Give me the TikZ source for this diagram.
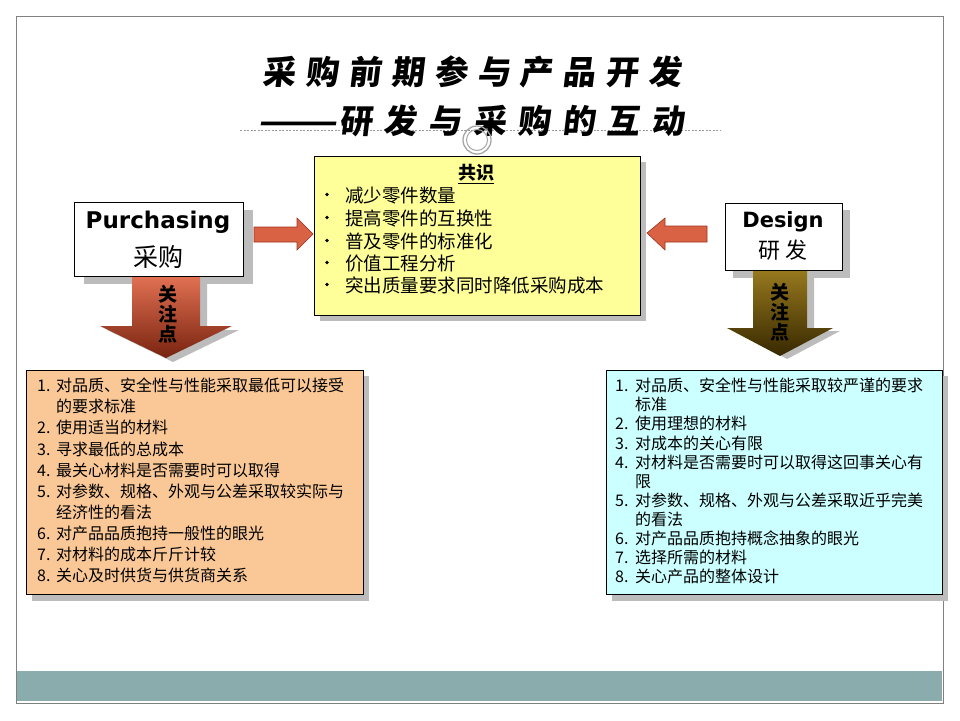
\documentclass[tikz,border=0pt]{standalone}
\usepackage{fontspec}
\setmainfont{Noto Sans CJK SC}
\newfontfamily\titlefont[FakeSlant=0.12]{Noto Sans CJK SC}
\newfontfamily\latfont{DejaVu Sans}
\definecolor{yelfill}{RGB}{255,255,153}
\definecolor{peach}{RGB}{250,200,150}
\definecolor{cyanfill}{RGB}{204,255,255}
\definecolor{bandc}{RGB}{138,172,172}
\definecolor{framec}{RGB}{128,128,128}
\definecolor{arrowred}{RGB}{218,98,68}
\definecolor{arrowedge}{RGB}{160,50,30}
\definecolor{dntop}{RGB}{225,112,82}
\definecolor{dnbot}{RGB}{120,35,15}
\definecolor{oltop}{RGB}{150,120,30}
\definecolor{olbot}{RGB}{55,40,0}
\definecolor{shadowc}{RGB}{188,188,188}
\newcommand\tk{\kern10pt}
\newcommand\tkb{\kern11.6pt}
\tikzset{
  shadowfill/.style={fill=shadowc, draw=none},
  boxline/.style={draw=black, line width=0.8pt, inner sep=0pt, anchor=north west},
  redarrow/.style={fill=arrowred, draw=arrowedge, line width=0.6pt},
  listline/.style={anchor=base west, inner sep=0pt, font=\fontsize{16}{19}\selectfont},
  yline/.style={anchor=base west, inner sep=0pt, font=\fontsize{18.5}{20}\selectfont},
  focus/.style={align=center, inner sep=0pt, font=\bfseries\fontsize{19}{20}\selectfont},
  titletext/.style={inner sep=0pt, font=\titlefont\bfseries\fontsize{33}{33}\selectfont},
}
\begin{document}
\begin{tikzpicture}[x=1pt,y=-1pt]
\useasboundingbox (0,0) rectangle (960,720);
\fill[white] (0,0) rectangle (960,720);
% frame and band
\fill[bandc] (17,671) rectangle (942,701);
\draw[framec, line width=1pt] (16,16) rectangle (943,703);
% title
\draw[framec!80, dash pattern=on 2pt off 1.5pt, line width=0.6pt] (240,130) -- (720,130);
\node[titletext] (t1) at (472,72)
  {采\tk 购\tk 前\tk 期\tk 参\tk 与\tk 产\tk 品\tk 开\tk 发};
\node[titletext] (t2) at (471,121)
  {\scalebox{1.41}[1]{——}\kern2pt 研\tkb 发\tkb 与\tkb 采\tkb 购\tkb 的\tkb 互\tkb 动};
\draw[gray!70, line width=1.3pt] (477,140) circle (14);
\draw[gray!70, line width=1pt] (477,140) circle (10.5);
% yellow box
\fill[shadowfill] (320,162) rectangle (646,321);
\node[boxline, fill=yelfill, minimum width=326, minimum height=159] (ybox) at (314,156) {};
\node[inner sep=0pt, font=\bfseries\fontsize{18}{20}\selectfont] (yt) at (476,174) {\underline{共识}};
\foreach \y/\t [count=\i] in {202/减少零件数量, 225/提高零件的互换性, 248/普及零件的标准化, 270/价值工程分析, 292/突出质量要求同时降低采购成本}{
  \node[yline] (yl\i) at (345,\y) {\t};
  \fill (327,\y-7.5) circle (1.9);
}
% purchasing box
\fill[shadowfill] (84,210) rectangle (253,284);
\path[shadowfill] (139,284) -- (207,284) -- (207,330) -- (239,330) -- (173,362) -- (107,330) -- (139,330) -- cycle;
\node[boxline, fill=white, minimum width=169, minimum height=74] (pbox) at (74,202) {};
\node[inner sep=0pt, font=\latfont\bfseries\fontsize{23}{23}\selectfont] (pen) at (158,222) {Purchasing};
\node[inner sep=0pt, font=\fontsize{25}{25}\selectfont] (pcn) at (158,257) {采购};
\path[redarrow] (254,227) -- (297,227) -- (297,218) -- (313,234) -- (297,250) -- (297,242) -- (254,242) -- cycle;
\shade[top color=dntop, bottom color=dnbot] (132,277) -- (200,277) -- (200,326) -- (232,326) -- (166,358) -- (100,326) -- (132,326) -- cycle;
\node[focus] (pf) at (168,314) {关\\注\\点};
% design box
\fill[shadowfill] (733,210) rectangle (850,278);
\path[shadowfill] (760,278) -- (814,278) -- (814,331) -- (840,331) -- (787,359) -- (734,331) -- (760,331) -- cycle;
\node[boxline, fill=white, minimum width=117, minimum height=67] (dbox) at (725,203) {};
\node[inner sep=0pt, font=\latfont\bfseries\fontsize{21}{21}\selectfont] (den) at (783,222) {Design};
\node[inner sep=0pt, font=\fontsize{22}{22}\selectfont] (dcn) at (783,250) {研 发};
\path[redarrow] (707,226) -- (665,226) -- (665,218) -- (647,233) -- (665,250) -- (665,242) -- (707,242) -- cycle;
\shade[top color=oltop, bottom color=olbot] (753,271) -- (807,271) -- (807,328) -- (833,328) -- (780,356) -- (727,328) -- (753,328) -- cycle;
\node[focus] (df) at (780,312) {关\\注\\点};
% left list
\fill[shadowfill] (32,376) rectangle (369,601);
\node[boxline, fill=peach, minimum width=337, minimum height=224] (lbox) at (26,370) {};
\foreach \y/\n/\t [count=\i] in {
  391.7/1./对品质、安全性与性能采取最低可以接受,
  412.8//的要求标准,
  433.9/2./使用适当的材料,
  455.0/3./寻求最低的总成本,
  476.1/4./最关心材料是否需要时可以取得,
  497.2/5./对参数、规格、外观与公差采取较实际与,
  518.3//经济性的看法,
  539.4/6./对产品品质抱持一般性的眼光,
  560.5/7./对材料的成本斤斤计较,
  581.6/8./关心及时供货与供货商关系}{
  \node[listline] (ll\i) at (37,\y) {\makebox[19pt][l]{\n}\t};
}
% right list
\fill[shadowfill] (612,376) rectangle (948,601);
\node[boxline, fill=cyanfill, minimum width=336, minimum height=224] (rbox) at (606,370) {};
\foreach \y/\n/\t [count=\i] in {
  391.7/1./对品质、安全性与性能采取较严谨的要求,
  410.8//标准,
  429.9/2./使用理想的材料,
  449.0/3./对成本的关心有限,
  468.1/4./对材料是否需要时可以取得这回事关心有,
  487.2//限,
  506.3/5./对参数、规格、外观与公差采取近乎完美,
  525.4//的看法,
  544.5/6./对产品品质抱持概念抽象的眼光,
  563.6/7./选择所需的材料,
  582.7/8./关心产品的整体设计}{
  \node[listline] (rl\i) at (615,\y) {\makebox[20pt][l]{\n}\t};
}
\end{tikzpicture}
\end{document}
